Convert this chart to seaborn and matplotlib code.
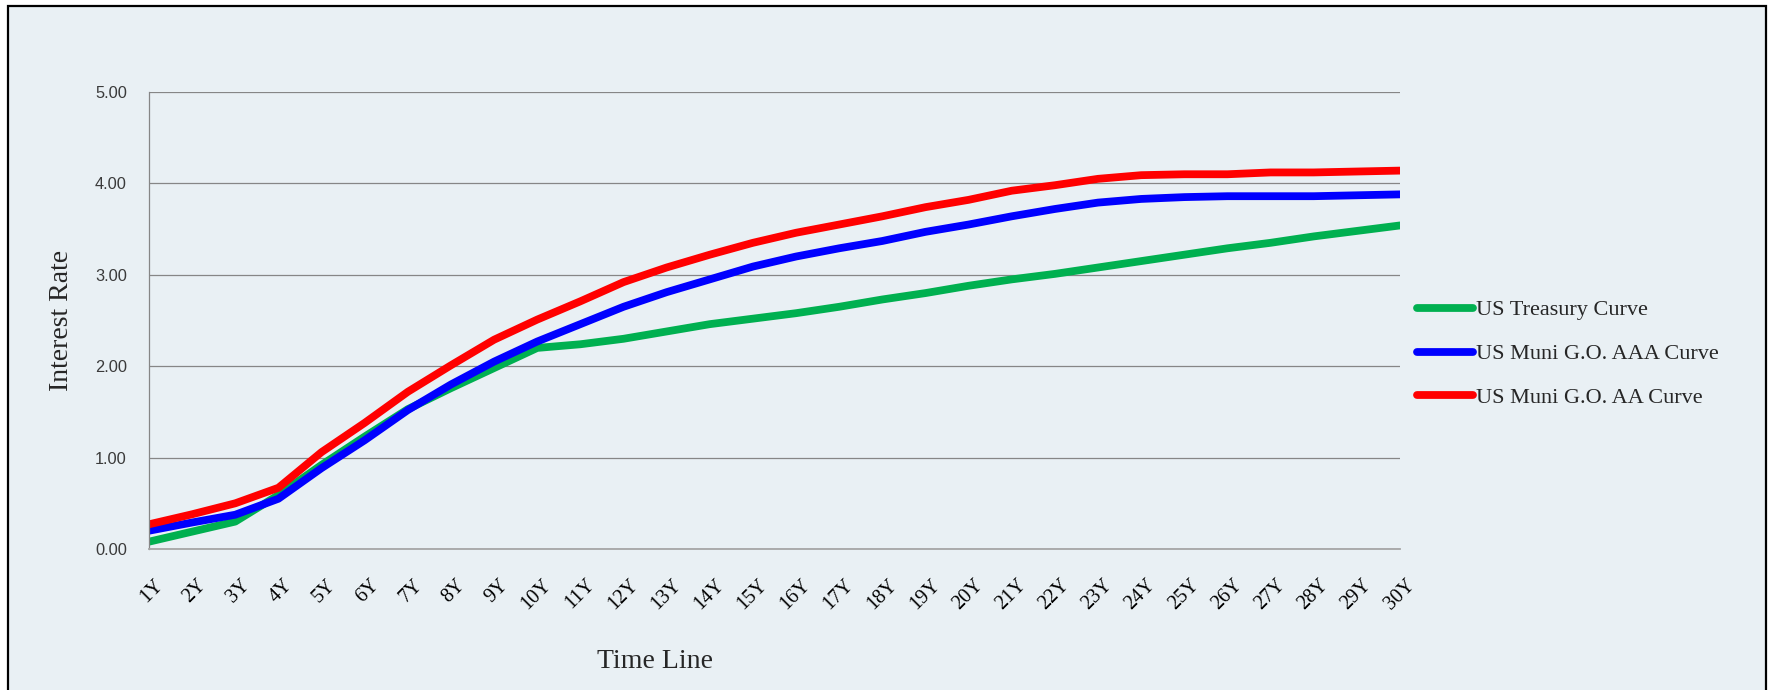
# Yield curves: US Treasury vs US Muni G.O. AAA / AA
import pandas as pd
import matplotlib.pyplot as plt
import matplotlib.transforms as mtransforms
from matplotlib.patches import Rectangle
import seaborn as sns

# --- data ---
maturities = ['1Y', '2Y', '3Y', '4Y', '5Y', '6Y', '7Y', '8Y', '9Y', '10Y',
              '11Y', '12Y', '13Y', '14Y', '15Y', '16Y', '17Y', '18Y', '19Y', '20Y',
              '21Y', '22Y', '23Y', '24Y', '25Y', '26Y', '27Y', '28Y', '29Y', '30Y']
treasury = [0.08, 0.19, 0.30, 0.59, 0.92, 1.23, 1.53, 1.76, 1.98, 2.20,
            2.24, 2.30, 2.38, 2.46, 2.52, 2.58, 2.65, 2.73, 2.80, 2.88,
            2.95, 3.01, 3.08, 3.15, 3.22, 3.29, 3.35, 3.42, 3.48, 3.54]
muni_aaa = [0.20, 0.29, 0.375, 0.55, 0.885, 1.19, 1.52, 1.80, 2.05, 2.27,
            2.46, 2.65, 2.81, 2.95, 3.09, 3.20, 3.29, 3.37, 3.47, 3.55,
            3.64, 3.72, 3.79, 3.83, 3.85, 3.86, 3.86, 3.86, 3.87, 3.88]
muni_aa = [0.27, 0.38, 0.50, 0.67, 1.06, 1.38, 1.72, 2.01, 2.29, 2.51,
           2.71, 2.92, 3.08, 3.22, 3.35, 3.46, 3.55, 3.64, 3.74, 3.82,
           3.92, 3.98, 4.05, 4.09, 4.10, 4.10, 4.12, 4.12, 4.13, 4.14]
curve_names = ['US Treasury Curve', 'US Muni G.O. AAA Curve', 'US Muni G.O. AA Curve']
curve_colors = ['#00B050', '#0000FF', '#FF0000']
y_ticks = [0, 1, 2, 3, 4, 5]

df = pd.concat([
    pd.DataFrame({'Maturity': maturities, 'Rate': vals, 'Curve': name})
    for name, vals in zip(curve_names, [treasury, muni_aaa, muni_aa])
], ignore_index=True)

bg = '#E9F0F4'
grid_col = '#868686'

sns.set_style('white')
plt.rcParams['font.family'] = ['Liberation Serif', 'DejaVu Serif']

fig = plt.figure(figsize=(17.71, 6.90), dpi=100, facecolor='white')
# black frame round the chart area
fig.add_artist(Rectangle((8 / 1771, -0.05), (1766 - 8) / 1771, 1.05 - 6 / 690,
                         transform=fig.transFigure, facecolor=bg,
                         edgecolor='black', linewidth=1.6, zorder=-10))

ax = fig.add_axes([149 / 1771, 1 - 549 / 690, (1400 - 149) / 1771, (549 - 92) / 690])
ax.set_facecolor(bg)

sns.lineplot(data=df, x='Maturity', y='Rate', hue='Curve', hue_order=curve_names,
             palette=curve_colors, linewidth=5.6, sort=False, ax=ax)

ax.set_xlim(0, len(maturities) - 1)
ax.set_ylim(0, 5)
ax.set_yticks(y_ticks)
ax.set_yticklabels([f'{v:.2f}' for v in y_ticks], family='Liberation Sans',
                   fontsize=11.8, color='#3A3A3A')
ax.tick_params(axis='y', length=0, pad=16)
ax.tick_params(axis='x', length=0, pad=19)
ax.set_xticks(range(len(maturities)))
ax.set_xticklabels(maturities, rotation=45, ha='right', va='top',
                   rotation_mode='anchor', fontsize=14.5, color='black')
shift = mtransforms.ScaledTranslation(5 / 100, 0, fig.dpi_scale_trans)
for lbl in ax.get_xticklabels():
    lbl.set_transform(lbl.get_transform() + shift)

ax.yaxis.grid(True, color=grid_col, linewidth=0.9)
ax.set_axisbelow(True)
for side in ['top', 'right']:
    ax.spines[side].set_visible(False)
ax.spines['left'].set_color(grid_col)
ax.spines['left'].set_linewidth(0.9)
ax.spines['bottom'].set_color('#A6A6A6')
ax.spines['bottom'].set_linewidth(1.3)
ax.set_xlabel('')
ax.set_ylabel('')

fig.text(61 / 1771, 1 - 320 / 690, 'Interest Rate', rotation=90,
         ha='center', va='center', fontsize=20)
fig.text(655 / 1771, 1 - 662 / 690, 'Time Line', ha='center', va='center', fontsize=20)

handles, labels = ax.get_legend_handles_labels()
leg = ax.legend(handles, labels, loc='center left',
                bbox_to_anchor=(1417 / 1771, 1 - 354 / 690),
                bbox_transform=fig.transFigure, frameon=False,
                fontsize=16, handlelength=2.5, handletextpad=0.15,
                labelspacing=1.05, borderpad=0, borderaxespad=0)
for line in leg.get_lines():
    line.set_linewidth(5.6)
    line.set_solid_capstyle('round')

fig.savefig('out.png', dpi=100, facecolor=fig.get_facecolor())
